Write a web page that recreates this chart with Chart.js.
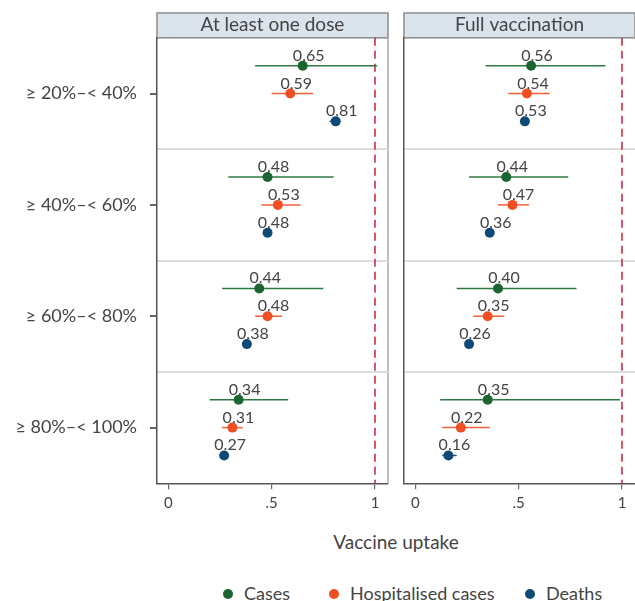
<!DOCTYPE html>
<html>
<head>
<meta charset="utf-8">
<script src="https://cdn.jsdelivr.net/npm/chart.js@4.4.0/dist/chart.umd.min.js"></script>
<style>
  body { margin: 0; background: #fff; }
  #wrap { position: relative; width: 635px; height: 601px; overflow: hidden; font-family: Lato, sans-serif; color: #444; }
  #c1 { position: absolute; left: 0; top: 0; }
  #c2 { position: absolute; left: 395px; top: 0; }
  #xtitle { position: absolute; left: 157px; width: 478px; top: 530px; text-align: center; font-size: 19px; }
  .key { position: absolute; top: 582px; font-size: 18px; white-space: nowrap; line-height: 22px; }
  .key span { display: inline-block; width: 10px; height: 10px; border-radius: 50%; margin-right: 11px; vertical-align: 1px; }
</style>
</head>
<body>
<div id="wrap">
  <canvas id="c1" width="390" height="520"></canvas>
  <canvas id="c2" width="240" height="520"></canvas>
  <div id="xtitle">Vaccine uptake</div>
  <div class="key" style="left:223px"><span style="background:#1a6530"></span>Cases</div>
  <div class="key" style="left:329px"><span style="background:#f04f23"></span>Hospitalised cases</div>
  <div class="key" style="left:525px"><span style="background:#0e4a75"></span>Deaths</div>
</div>
<script>
const groups = ['≥ 20%–< 40%', '≥ 40%–< 60%', '≥ 60%–< 80%', '≥ 80%–< 100%'];
const panels = ['At least one dose', 'Full vaccination'];
const xTicks = [0, 0.5, 1];
const xTickLabels = ['0', '.5', '1'];

// At least one dose
const doseCases = [0.65, 0.48, 0.44, 0.34];
const doseCasesLo = [0.42, 0.29, 0.26, 0.20];
const doseCasesHi = [1.01, 0.80, 0.75, 0.58];
const doseHosp = [0.59, 0.53, 0.48, 0.31];
const doseHospLo = [0.50, 0.45, 0.42, 0.26];
const doseHospHi = [0.70, 0.64, 0.55, 0.36];
const doseDeaths = [0.81, 0.48, 0.38, 0.27];
const doseDeathsLo = [0.78, 0.47, 0.37, 0.26];
const doseDeathsHi = [0.83, 0.49, 0.39, 0.28];

// Full vaccination
const fullCases = [0.56, 0.44, 0.40, 0.35];
const fullCasesLo = [0.34, 0.26, 0.20, 0.12];
const fullCasesHi = [0.92, 0.74, 0.78, 0.99];
const fullHosp = [0.54, 0.47, 0.35, 0.22];
const fullHospLo = [0.45, 0.40, 0.28, 0.13];
const fullHospHi = [0.65, 0.55, 0.43, 0.36];
const fullDeaths = [0.53, 0.36, 0.26, 0.16];
const fullDeathsLo = [0.52, 0.35, 0.25, 0.13];
const fullDeathsHi = [0.54, 0.37, 0.27, 0.20];

const green = '#1a6530', orange = '#f04f23', blue = '#0e4a75';
const FONT = 'Lato, sans-serif';

function series(label, vals, lo, hi, shift, color, barColor) {
    return {
        label: label,
        data: vals.map((v, i) => ({ x: v, y: i + 1 + shift, lo: lo[i], hi: hi[i] })),
        backgroundColor: color,
        borderWidth: 0,
        pointRadius: 5,
        barColor: barColor
    };
}

// header strip behind the title, frame, reference line, CIs, value labels
const panelDecor = {
    id: 'panelDecor',
    beforeDraw(chart, args, opts) {
        const ctx = chart.ctx, a = chart.chartArea, t = chart.titleBlock;
        ctx.save();
        ctx.fillStyle = '#dbe3ed';
        ctx.fillRect(a.left, t.top, a.right - a.left, t.bottom - t.top);
        ctx.strokeStyle = '#8c8c8c';
        ctx.lineWidth = 1.5;
        ctx.strokeRect(a.left, t.top, a.right - a.left, t.bottom - t.top);
        if (opts.rightBorder) {
            ctx.strokeStyle = '#aaaaaa';
            ctx.beginPath();
            ctx.moveTo(a.right, a.top);
            ctx.lineTo(a.right, a.bottom);
            ctx.stroke();
        }
        ctx.restore();
    },
    beforeDatasetsDraw(chart) {
        const ctx = chart.ctx, a = chart.chartArea, x = chart.scales.x;
        ctx.save();
        ctx.strokeStyle = '#c8203a';
        ctx.lineWidth = 1.5;
        ctx.setLineDash([8, 5]);
        const px = x.getPixelForValue(1);
        ctx.beginPath();
        ctx.moveTo(px, a.top);
        ctx.lineTo(px, a.bottom);
        ctx.stroke();
        ctx.setLineDash([]);
        chart.data.datasets.forEach(ds => {
            ctx.strokeStyle = ds.barColor;
            ctx.lineWidth = 1.5;
            ds.data.forEach(p => {
                const py = chart.scales.y.getPixelForValue(p.y);
                ctx.beginPath();
                ctx.moveTo(x.getPixelForValue(p.lo), py);
                ctx.lineTo(x.getPixelForValue(p.hi), py);
                ctx.stroke();
            });
        });
        ctx.restore();
    },
    afterDatasetsDraw(chart) {
        const ctx = chart.ctx;
        ctx.save();
        ctx.font = '16px ' + FONT;
        ctx.fillStyle = '#444';
        ctx.textAlign = 'center';
        ctx.textBaseline = 'alphabetic';
        chart.data.datasets.forEach((ds, di) => {
            chart.getDatasetMeta(di).data.forEach((el, i) => {
                ctx.fillText(ds.data[i].x.toFixed(2), el.x + 6, el.y - 5);
            });
        });
        ctx.restore();
    }
};

function makePanel(id, title, cases, casesLo, casesHi, hosp, hospLo, hospHi, deaths, deathsLo, deathsHi, first) {
    return new Chart(document.getElementById(id), {
        type: 'scatter',
        data: {
            datasets: [
                series('Cases', cases, casesLo, casesHi, -0.25, green, '#2c7a42'),
                series('Hospitalised cases', hosp, hospLo, hospHi, 0, orange, '#f2603a'),
                series('Deaths', deaths, deathsLo, deathsHi, 0.25, blue, '#1d5580')
            ]
        },
        options: {
            responsive: false,
            animation: false,
            layout: { autoPadding: false, padding: { top: 13, right: first ? 2 : 0, left: 0, bottom: 0 } },
            plugins: {
                legend: { display: false },
                tooltip: { enabled: false },
                title: {
                    display: true,
                    text: title,
                    fullSize: false,
                    color: '#444',
                    font: { family: FONT, size: 19, weight: 'normal', lineHeight: 1.15 },
                    padding: { top: 1, bottom: 2 }
                },
                panelDecor: { rightBorder: first }
            },
            scales: {
                x: {
                    type: 'linear',
                    min: -0.055,
                    max: 1.063,
                    afterBuildTicks: s => { s.ticks = xTicks.map(v => ({ value: v })); },
                    afterFit: s => { s.height = 36.7; s.paddingLeft = 0; s.paddingRight = 0; },
                    ticks: {
                        callback: (v, i) => xTickLabels[i],
                        color: '#444',
                        font: { family: FONT, size: 15 },
                        padding: 5,
                        maxRotation: 0
                    },
                    grid: { drawOnChartArea: false, tickLength: 6, tickColor: '#666', lineWidth: 1.2 },
                    border: { color: '#555', width: 1.5 }
                },
                y: {
                    type: 'linear',
                    reverse: true,
                    min: 0.5,
                    max: 4.5,
                    afterFit: s => { s.width = first ? 157 : 9; s.paddingTop = 0; s.paddingBottom = 0; },
                    ticks: {
                        display: first,
                        stepSize: 0.5,
                        autoSkip: false,
                        callback: v => Number.isInteger(v) ? groups[v - 1] : '',
                        color: '#444',
                        font: { family: FONT, size: 18 },
                        padding: 13
                    },
                    grid: {
                        lineWidth: 2,
                        color: c => (c.tick && c.tick.value % 1 === 0.5 && c.tick.value > 0.5 && c.tick.value < 4.5) ? '#dedede' : 'rgba(0,0,0,0)',
                        tickColor: c => (first && c.tick && Number.isInteger(c.tick.value)) ? '#666' : 'rgba(0,0,0,0)',
                        tickLength: first ? 7 : 0
                    },
                    border: { color: '#555', width: 1.5 }
                }
            }
        },
        plugins: [panelDecor]
    });
}

makePanel('c1', panels[0], doseCases, doseCasesLo, doseCasesHi, doseHosp, doseHospLo, doseHospHi, doseDeaths, doseDeathsLo, doseDeathsHi, true);
makePanel('c2', panels[1], fullCases, fullCasesLo, fullCasesHi, fullHosp, fullHospLo, fullHospHi, fullDeaths, fullDeathsLo, fullDeathsHi, false);
</script>
</body>
</html>
